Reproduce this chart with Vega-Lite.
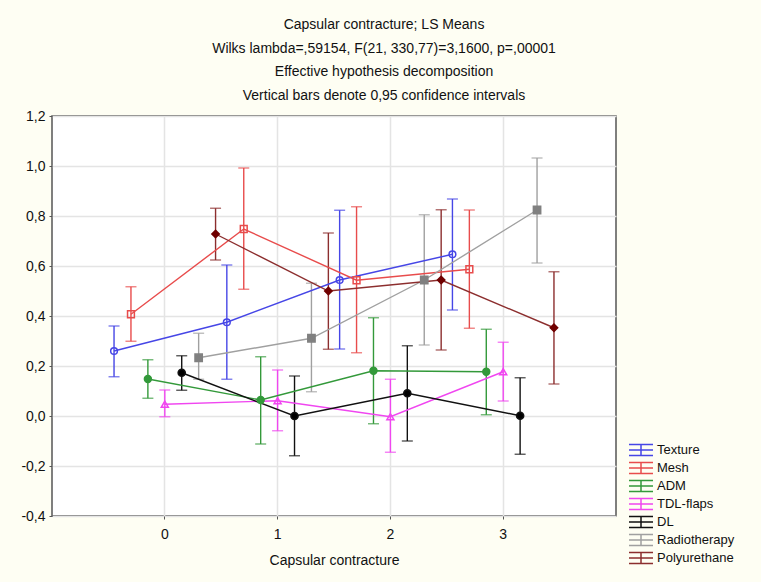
{
  "$schema": "https://vega.github.io/schema/vega-lite/v6.json",
  "width": 564,
  "height": 400,
  "autosize": {"type": "none"},
  "padding": {"left": 52, "top": 116, "right": 145, "bottom": 66},
  "background": "#FEFEF3",
  "title": {
    "text": ["Capsular contracture; LS Means", "Wilks lambda=,59154, F(21, 330,77)=3,1600, p=,00001", "Effective hypothesis decomposition", "Vertical bars denote 0,95 confidence intervals"],
    "anchor": "middle",
    "frame": "group",
    "dx": 50,
    "offset": 6,
    "font": "Liberation Sans",
    "fontSize": 14,
    "fontWeight": "normal",
    "lineHeight": 23.7,
    "color": "#111"
  },
  "config": {
    "locale": {"number": {"decimal": ",", "thousands": ".", "grouping": [3], "currency": ["", ""], "minus": "-"}},
    "view": {"fill": "white", "stroke": "#555", "strokeWidth": 1.5},
    "font": "Liberation Sans",
    "axis": {"labelFont": "Liberation Sans", "titleFont": "Liberation Sans", "labelFontSize": 14, "titleFontSize": 14, "titleFontWeight": "normal", "labelColor": "#111", "titleColor": "#111", "domain": false, "gridColor": "#E4E4E4", "gridWidth": 1.5, "tickColor": "#555", "tickSize": 3}
  },
  "resolve": {"scale": {"shape": "independent", "fill": "independent", "size": "independent", "stroke": "independent"}, "legend": {"shape": "independent", "fill": "independent", "size": "independent", "stroke": "independent"}},
  "data": {"values": [
    {"series": "Texture", "cc": "0", "mean": 0.26, "lo": 0.157, "hi": 0.36},
    {"series": "Texture", "cc": "1", "mean": 0.375, "lo": 0.147, "hi": 0.604},
    {"series": "Texture", "cc": "2", "mean": 0.544, "lo": 0.268, "hi": 0.823},
    {"series": "Texture", "cc": "3", "mean": 0.647, "lo": 0.424, "hi": 0.868},
    {"series": "Mesh", "cc": "0", "mean": 0.407, "lo": 0.299, "hi": 0.517},
    {"series": "Mesh", "cc": "1", "mean": 0.748, "lo": 0.507, "hi": 0.992},
    {"series": "Mesh", "cc": "2", "mean": 0.543, "lo": 0.253, "hi": 0.837},
    {"series": "Mesh", "cc": "3", "mean": 0.587, "lo": 0.351, "hi": 0.824},
    {"series": "ADM", "cc": "0", "mean": 0.148, "lo": 0.071, "hi": 0.225},
    {"series": "ADM", "cc": "1", "mean": 0.064, "lo": -0.112, "hi": 0.237},
    {"series": "ADM", "cc": "2", "mean": 0.181, "lo": -0.031, "hi": 0.393},
    {"series": "ADM", "cc": "3", "mean": 0.177, "lo": 0.005, "hi": 0.347},
    {"series": "TDL-flaps", "cc": "0", "mean": 0.047, "lo": -0.003, "hi": 0.104},
    {"series": "TDL-flaps", "cc": "1", "mean": 0.061, "lo": -0.059, "hi": 0.184},
    {"series": "TDL-flaps", "cc": "2", "mean": -0.003, "lo": -0.145, "hi": 0.147},
    {"series": "TDL-flaps", "cc": "3", "mean": 0.177, "lo": 0.06, "hi": 0.295},
    {"series": "DL", "cc": "0", "mean": 0.173, "lo": 0.103, "hi": 0.241},
    {"series": "DL", "cc": "1", "mean": 0.0, "lo": -0.159, "hi": 0.16},
    {"series": "DL", "cc": "2", "mean": 0.091, "lo": -0.1, "hi": 0.281},
    {"series": "DL", "cc": "3", "mean": 0.001, "lo": -0.153, "hi": 0.153},
    {"series": "Radiotherapy", "cc": "0", "mean": 0.233, "lo": 0.147, "hi": 0.331},
    {"series": "Radiotherapy", "cc": "1", "mean": 0.311, "lo": 0.097, "hi": 0.531},
    {"series": "Radiotherapy", "cc": "2", "mean": 0.544, "lo": 0.284, "hi": 0.805},
    {"series": "Radiotherapy", "cc": "3", "mean": 0.824, "lo": 0.612, "hi": 1.032},
    {"series": "Polyurethane", "cc": "0", "mean": 0.728, "lo": 0.624, "hi": 0.831},
    {"series": "Polyurethane", "cc": "1", "mean": 0.5, "lo": 0.267, "hi": 0.732},
    {"series": "Polyurethane", "cc": "2", "mean": 0.544, "lo": 0.264, "hi": 0.825},
    {"series": "Polyurethane", "cc": "3", "mean": 0.353, "lo": 0.128, "hi": 0.577}
  ]},
  "encoding": {
    "x": {"field": "cc", "type": "ordinal", "scale": {"paddingInner": 0, "paddingOuter": 0.5},
      "axis": {"title": "Capsular contracture", "labelAngle": 0, "labelPadding": 8, "titlePadding": 12, "grid": true, "bandPosition": 0.5}},
    "xOffset": {"field": "series", "type": "nominal", "sort": ["Texture", "Mesh", "ADM", "TDL-flaps", "DL", "Radiotherapy", "Polyurethane"], "scale": {"type": "point", "padding": 0.333}}
  },
  "layer": [
    {"mark": {"type": "rule", "strokeWidth": 1.4},
      "encoding": {"y": {"field": "lo", "type": "quantitative"}, "y2": {"field": "hi"},
        "color": {"field": "series", "type": "nominal",
          "scale": {"domain": ["Texture", "Mesh", "ADM", "TDL-flaps", "DL", "Radiotherapy", "Polyurethane"],
            "range": ["#4646E6", "#E84C4C", "#33993A", "#F046F0", "#111111", "#A0A0A0", "#8C2E2E"]},
          "legend": {"title": null, "orient": "none", "legendX": 580, "legendY": 325, "labelFontSize": 13, "labelFont": "Liberation Sans", "labelColor": "#111", "rowPadding": 0, "labelOffset": 7,
            "symbolType": "M-1.5,-0.7H1.5M-1.5,0H1.5M-1.5,0.7H1.5M0,-0.7V0.7", "symbolSize": 256, "symbolStrokeWidth": 1.5, "symbolFillColor": "transparent"}}}},
    {"mark": {"type": "tick", "size": 11, "thickness": 1.4}, "encoding": {"y": {"field": "lo", "type": "quantitative"}, "color": {"field": "series", "type": "nominal", "legend": null}}},
    {"mark": {"type": "tick", "size": 11, "thickness": 1.4}, "encoding": {"y": {"field": "hi", "type": "quantitative"}, "color": {"field": "series", "type": "nominal", "legend": null}}},
    {"mark": {"type": "line", "strokeWidth": 1.4}, "encoding": {"y": {"field": "mean", "type": "quantitative"}, "color": {"field": "series", "type": "nominal", "legend": null}}},
    {"mark": {"type": "point", "strokeWidth": 1.5, "opacity": 1, "filled": false},
      "encoding": {
        "y": {"field": "mean", "type": "quantitative",
          "scale": {"domain": [-0.4, 1.2], "nice": false, "zero": false},
          "axis": {"title": null, "values": [-0.4, -0.2, 0, 0.2, 0.4, 0.6, 0.8, 1.0, 1.2], "format": ".1f", "labelPadding": 4, "grid": true}},
        "stroke": {"field": "series", "type": "nominal", "legend": null,
          "scale": {"domain": ["Texture", "Mesh", "ADM", "TDL-flaps", "DL", "Radiotherapy", "Polyurethane"],
            "range": ["#4646E6", "#E84C4C", "#33993A", "#F046F0", "#111111", "#808080", "#700000"]}},
        "shape": {"field": "series", "type": "nominal", "legend": null,
          "scale": {"domain": ["Texture", "Mesh", "ADM", "TDL-flaps", "DL", "Radiotherapy", "Polyurethane"],
            "range": ["circle", "square", "circle", "triangle-up", "circle", "square", "diamond"]}},
        "fill": {"field": "series", "type": "nominal", "legend": null,
          "scale": {"domain": ["Texture", "Mesh", "ADM", "TDL-flaps", "DL", "Radiotherapy", "Polyurethane"],
            "range": ["transparent", "transparent", "#33993A", "transparent", "#000000", "#808080", "#700000"]}},
        "size": {"field": "series", "type": "nominal", "legend": null,
          "scale": {"domain": ["Texture", "Mesh", "ADM", "TDL-flaps", "DL", "Radiotherapy", "Polyurethane"],
            "range": [45, 55, 25, 40, 70, 60, 35]}}
      }}
  ]
}
